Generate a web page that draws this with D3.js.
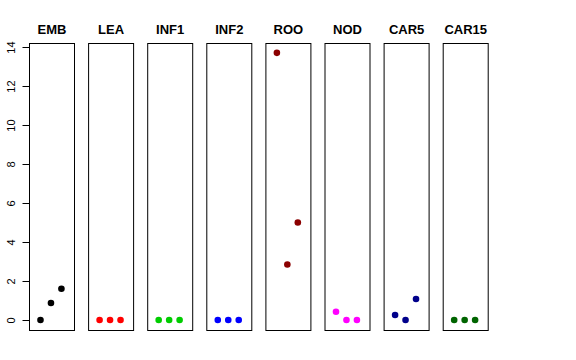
<!DOCTYPE html>
<html>
<head>
<meta charset="utf-8">
<script src="https://cdn.jsdelivr.net/npm/d3@7"></script>
<style>
  body { margin:0; background:#fff; }
  svg { display:block; font-family:"Liberation Sans", Arial, sans-serif; }
</style>
</head>
<body>
<svg width="576" height="360"></svg>
<script>
const panels = ["EMB","LEA","INF1","INF2","ROO","NOD","CAR5","CAR15"];
const colors = ["#000000","#ff0000","#00cd00","#0000ff","#8b0000","#ff00ff","#00008b","#006400"];
// three replicates per panel
const reps = [1, 2, 3];
const values = [
  [0, 0.87, 1.6],
  [0, 0, 0],
  [0, 0, 0],
  [0, 0, 0],
  [13.7, 2.85, 5.0],
  [0.42, 0, 0],
  [0.26, 0, 1.08],
  [0, 0, 0]
];
const yTicks = [0, 2, 4, 6, 8, 10, 12, 14];

const svg = d3.select("svg");
const boxTop = 43.5, boxBottom = 330.5;
const boxW = 45, pitch = 59.1, left0 = 29.5;

const y = d3.scaleLinear().domain([0, 14]).range([320, 47]);
const x = d3.scaleLinear().domain([-0.05, 4.25]).range([0, boxW]);

// y axis
const ax = svg.append("g").attr("transform", `translate(${left0},0)`)
  .call(d3.axisLeft(y).tickValues(yTicks).tickSize(7).tickPadding(4));
ax.select(".domain").remove();
ax.selectAll(".tick line").attr("stroke", "#000");
ax.selectAll(".tick text")
  .attr("font-size", 11).attr("fill", "#000")
  .attr("text-anchor", "middle")
  .attr("x", 0).attr("y", 0)
  .attr("dy", "0.35em")
  .attr("transform", "translate(-18,0) rotate(-90)");

panels.forEach((name, i) => {
  const g = svg.append("g").attr("transform", `translate(${left0 + i * pitch},0)`);
  g.append("rect")
    .attr("x", 0).attr("y", boxTop)
    .attr("width", boxW).attr("height", boxBottom - boxTop)
    .attr("fill", "none").attr("stroke", "#000").attr("stroke-width", 1);
  g.append("text")
    .attr("x", boxW / 2).attr("y", 34)
    .attr("text-anchor", "middle")
    .attr("font-weight", "bold").attr("font-size", 13)
    .text(name);
  g.selectAll("circle")
    .data(values[i])
    .join("circle")
      .attr("cx", (d, j) => x(reps[j]))
      .attr("cy", d => y(d))
      .attr("r", 3.3)
      .attr("fill", colors[i]);
});
</script>
</body>
</html>
